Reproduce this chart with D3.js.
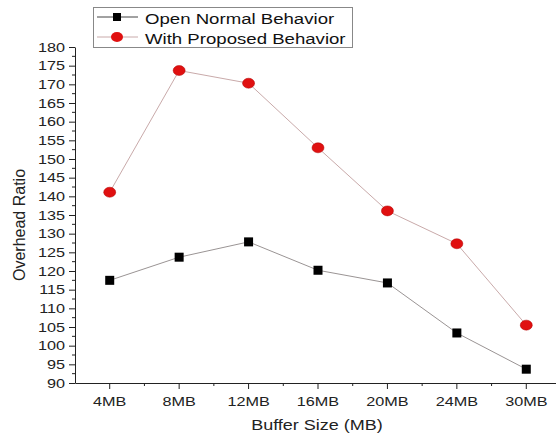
<!DOCTYPE html>
<html><head><meta charset="utf-8">
<script src="https://cdn.jsdelivr.net/npm/d3@7"></script>
<style>body{margin:0;background:#fff}svg{display:block}text{font-family:"Liberation Sans",Arial,sans-serif}</style>
</head><body>
<svg id="c" width="556" height="433"></svg>
<script>
const categories = ["4MB","8MB","12MB","16MB","20MB","24MB","30MB"];
const normalValues = [117.5,123.7,127.8,120.2,116.8,103.4,93.7];
const proposedValues = [141.1,173.7,170.3,153.0,136.1,127.3,105.5];
const yTicks = d3.range(90,181,5);
const seriesNames = ["Open Normal Behavior","With Proposed Behavior"];

(function(){
const svg = d3.select("#c");
const mLeft = 75, mRight = 561, mTop = 47, mBottom = 383;
const stretch = 1.2;
const x = d3.scaleBand().domain(categories).range([mLeft,mRight]);
const xc = d => x(d) + x.bandwidth()/2;
const y = d3.scaleLinear().domain([90,180]).range([mBottom,mTop]);

// y axis
const yAxis = d3.axisLeft(y).tickValues(yTicks).tickSize(6).tickPadding(4).tickSizeOuter(0);
const gy = svg.append("g").attr("transform",`translate(${mLeft},0)`).call(yAxis);
gy.selectAll("text").style("font-size","13.5px").attr("fill","#222");
gy.selectAll("line,path").attr("stroke","#222");
const yMinor = d3.range(92.5,180,5);
svg.append("g").selectAll("line").data(yMinor).join("line")
  .attr("x1",mLeft-3).attr("x2",mLeft).attr("y1",d=>y(d)).attr("y2",d=>y(d)).attr("stroke","#222");

// x axis
const xAxis = d3.axisBottom(x).tickSize(6).tickPadding(7).tickSizeOuter(0);
const gx = svg.append("g").attr("transform",`translate(0,${mBottom})`).call(xAxis);
gx.selectAll("text").style("font-size","13.5px").attr("fill","#222");
gx.selectAll("line,path").attr("stroke","#222");
svg.append("g").selectAll("line").data(categories.slice(1)).join("line")
  .attr("x1",d=>x(d)).attr("x2",d=>x(d)).attr("y1",mBottom).attr("y2",mBottom+3).attr("stroke","#222");

// lines
const line = vals => d3.line().x((d,i)=>xc(categories[i])).y(d=>y(d))(vals);
svg.append("path").attr("d",line(normalValues)).attr("fill","none").attr("stroke","#9a9494").attr("stroke-width",1);
svg.append("path").attr("d",line(proposedValues)).attr("fill","none").attr("stroke","#c9aaaa").attr("stroke-width",1);

// markers
svg.append("g").selectAll("rect").data(normalValues).join("rect")
  .attr("x",(d,i)=>xc(categories[i])-4.5).attr("y",d=>y(d)-4.5).attr("width",9).attr("height",9).attr("fill","#000");
svg.append("g").selectAll("ellipse").data(proposedValues).join("ellipse")
  .attr("cx",(d,i)=>xc(categories[i])).attr("cy",d=>y(d)).attr("rx",6).attr("ry",5).attr("fill","#e01010").attr("stroke","#b00000").attr("stroke-width",0.5);

// axis titles
svg.append("text").attr("class","st").attr("x",317).attr("y",430).attr("text-anchor","middle").style("font-size","15px").attr("fill","#222").text("Buffer Size (MB)");
svg.append("text").attr("transform","translate(24.5,225) rotate(-90)").attr("text-anchor","middle").style("font-size","16px").attr("fill","#222").text("Overhead Ratio");

// legend
const lg = svg.append("g");
lg.append("rect").attr("x",93.5).attr("y",7.5).attr("width",259).attr("height",40).attr("fill","#fff").attr("stroke","#888");
const rows = [17,37];
lg.append("line").attr("x1",97).attr("x2",138).attr("y1",rows[0]).attr("y2",rows[0]).attr("stroke","#444");
lg.append("rect").attr("x",113).attr("y",rows[0]-4).attr("width",8).attr("height",8).attr("fill","#000");
lg.append("line").attr("x1",97).attr("x2",138).attr("y1",rows[1]).attr("y2",rows[1]).attr("stroke","#c9aaaa");
lg.append("ellipse").attr("cx",117).attr("cy",rows[1]).attr("rx",6).attr("ry",5).attr("fill","#e01010");
lg.selectAll("text.l").data(seriesNames).join("text").attr("class","l st")
  .attr("x",145).attr("y",(d,i)=>rows[i]+6.5).style("font-size","15.5px").attr("fill","#111").text(d=>d);

// horizontal stretch to mimic the reference's wide glyphs
gx.selectAll("text").classed("st",true);
gy.selectAll("text").classed("st",true);
svg.selectAll("text.st").each(function(){
  const w = this.getComputedTextLength();
  d3.select(this).attr("textLength", w*stretch).attr("lengthAdjust","spacingAndGlyphs");
});
})();
</script>
</body></html>
